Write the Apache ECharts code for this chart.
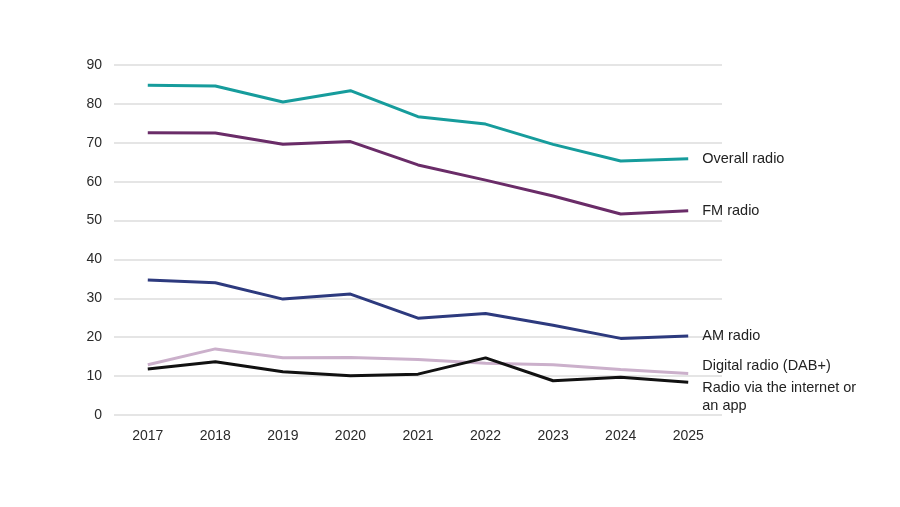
<!DOCTYPE html>
<html><head><meta charset="utf-8">
<script src="https://cdn.jsdelivr.net/npm/echarts@6/dist/echarts.min.js"></script>
<style>html,body{margin:0;padding:0;background:#fff}#c{width:900px;height:507px}</style>
</head><body><div id="c"></div>
<script>
const years = ['2017','2018','2019','2020','2021','2022','2023','2024','2025'];
const overall = [84.8, 84.6, 80.5, 83.4, 76.7, 74.8, 69.6, 65.3, 65.9];
const fm = [72.6, 72.5, 69.6, 70.3, 64.3, 60.4, 56.3, 51.7, 52.5];
const am = [34.7, 34.0, 29.8, 31.1, 24.9, 26.1, 23.1, 19.7, 20.3];
const digital = [12.9, 17.0, 14.7, 14.8, 14.3, 13.3, 12.9, 11.7, 10.7];
const internet = [11.8, 13.7, 11.1, 10.1, 10.5, 14.7, 8.8, 9.7, 8.4];
const yTicks = [0, 10, 20, 30, 40, 50, 60, 70, 80, 90];

const FONT = 'Arial, Liberation Sans, sans-serif';
const mk = (name, data, color, offset, z) => ({
  name, type: 'line', data, symbol: 'none', z: z,
  lineStyle: { color, width: 3 },
  endLabel: { show: true, formatter: name, distance: 14, offset,
    color: '#222', fontSize: 14.5, fontFamily: FONT, lineHeight: 18 }
});
const chart = echarts.init(document.getElementById('c'));
chart.setOption({
  animation: false,
  grid: { left: 114, right: 178, top: 65, bottom: 92 },
  xAxis: { type: 'category', data: years, boundaryGap: true,
    axisLine: { show: false }, axisTick: { show: false },
    axisLabel: { color: '#2a2a2a', fontSize: 14, margin: 14, fontFamily: FONT } },
  yAxis: { type: 'value', min: yTicks[0], max: yTicks[yTicks.length-1], interval: 10,
    axisLine: { show: false }, axisTick: { show: false },
    axisLabel: { color: '#2a2a2a', fontSize: 14, margin: 12, fontFamily: FONT } },
  series: [
    mk('Overall radio', overall, '#169c9c', [0, 0], 5),
    mk('FM radio', fm, '#6a2c68', [0, 0], 5),
    mk('AM radio', am, '#2d3a7e', [0, 0], 5),
    mk('Digital radio (DAB+)', digital, '#cbb0cb', [0, -7], 4),
    mk('Radio via the internet or\nan app', internet, '#111111', [0, 15], 6)
  ]
});
chart.setOption({ yAxis: { splitLine: { lineStyle: { color: '#dcdcdc', width: 1.5 } } } });
</script></body></html>
